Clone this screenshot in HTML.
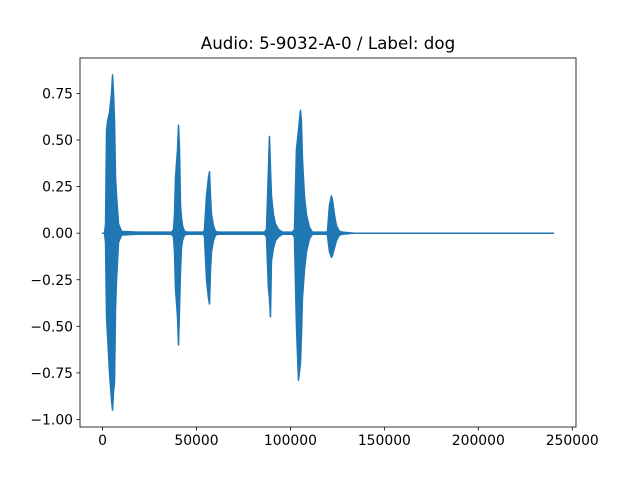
<!DOCTYPE html>
<html><head><meta charset="utf-8"><style>
html,body{margin:0;padding:0;background:#fff}
svg{display:block;font-family:"DejaVu Sans","Liberation Sans",sans-serif}
</style></head><body>
<svg id="chart" width="640" height="480" xmlns="http://www.w3.org/2000/svg">
<rect width="640" height="480" fill="#fff"/>
<text x="328" y="49" text-anchor="middle" font-size="16.7">Audio: 5-9032-A-0 / Label: dog</text>
<g id="plot"></g>
<g id="axes"></g>
</svg>
<script>
// envelope of the waveform: sample index, upper and lower amplitudes
const envX = [0,1064,1596,2128,2660,3724,4788,5320,5852,6384,6916,7448,8512,10108,
 18640,27960,
 36708,37772,38304,38836,39900,40432,40964,41496,42028,42560,43624,45220,
 48000,
 53732,54264,55328,56392,56924,57456,57988,59052,60116,61712,
 70000,
 86184,87248,88312,88844,89376,89908,90972,92036,93632,95760,
 101080,102144,103208,104272,105336,105868,106400,107464,108528,110124,111720,
 114000,
 119168,119700,120764,121828,122360,123424,124488,126084,127680,134064,240000];
const envHi = [0,0,0.05,0.55,0.6,0.65,0.75,0.85,0.75,0.6,0.3,0.2,0.05,0.01,
 0.006,0.006,
 0.006,0.02,0.1,0.3,0.45,0.58,0.45,0.15,0.08,0.04,0.01,0.006,
 0.006,
 0.006,0.02,0.2,0.3,0.33,0.2,0.1,0.04,0.01,0.006,
 0.006,
 0.006,0.02,0.35,0.52,0.35,0.2,0.1,0.05,0.02,0.006,
 0.006,0.02,0.45,0.55,0.66,0.6,0.4,0.2,0.1,0.03,0.006,
 0.006,
 0.006,0.01,0.15,0.2,0.18,0.1,0.04,0.01,0.006,0,0];
const envLo = [0,0,-0.05,-0.45,-0.55,-0.75,-0.9,-0.95,-0.85,-0.8,-0.4,-0.25,-0.05,-0.01,
 -0.006,-0.006,
 -0.006,-0.02,-0.1,-0.3,-0.45,-0.6,-0.4,-0.2,-0.08,-0.04,-0.01,-0.006,
 -0.006,
 -0.006,-0.02,-0.25,-0.35,-0.38,-0.2,-0.1,-0.04,-0.01,-0.006,
 -0.006,
 -0.006,-0.02,-0.3,-0.35,-0.45,-0.15,-0.08,-0.04,-0.02,-0.006,
 -0.006,-0.02,-0.5,-0.79,-0.7,-0.55,-0.35,-0.2,-0.1,-0.03,-0.006,
 -0.006,
 -0.006,-0.01,-0.1,-0.13,-0.12,-0.08,-0.04,-0.01,-0.006,0,0];
const xTicks = [0,50000,100000,150000,200000,250000];
const yTicks = [-1.0,-0.75,-0.5,-0.25,0,0.25,0.5,0.75];

const L=80,R=576,T=58,B=427;
const xMin=-12000,xMax=252000,yMin=-1.0405,yMax=0.9405;
const sx=v=>L+(v-xMin)/(xMax-xMin)*(R-L);
const sy=v=>B-(v-yMin)/(yMax-yMin)*(B-T);
const NS="http://www.w3.org/2000/svg";
const plot=document.getElementById('plot'), axes=document.getElementById('axes');
function mk(tag,attrs,parent){const e=document.createElementNS(NS,tag);for(const k in attrs)e.setAttribute(k,attrs[k]);parent.appendChild(e);return e;}

let pts=[];
for(let i=0;i<envX.length;i++)pts.push(sx(envX[i]).toFixed(2)+','+sy(envHi[i]).toFixed(2));
for(let i=envX.length-1;i>=0;i--)pts.push(sx(envX[i]).toFixed(2)+','+sy(envLo[i]).toFixed(2));
const poly=mk('polygon',{points:pts.join(' '),fill:'#1f77b4',stroke:'#1f77b4','stroke-width':1.5,'stroke-linejoin':'round'},plot);



const frame=mk('rect',{x:L,y:T,width:R-L,height:B-T,fill:'none',stroke:'#000','stroke-width':0.8},axes);


xTicks.forEach(v=>{
  const x=sx(v);
  const t=mk('line',{x1:x,x2:x,y1:B,y2:B+3.5,stroke:'#000','stroke-width':0.8},axes);
  
  
  const l=mk('text',{x:x,y:B+18,'text-anchor':'middle','font-size':13.9},axes);
  l.textContent=String(v);
  
  
});
yTicks.forEach(v=>{
  const y=sy(v);
  const t=mk('line',{x1:L-3.5,x2:L,y1:y,y2:y,stroke:'#000','stroke-width':0.8},axes);
  
  
  const l=mk('text',{x:L-7,y:y+5,'text-anchor':'end','font-size':13.9},axes);
  l.textContent=(v<0?'\u2212':'')+Math.abs(v).toFixed(2);
  
  
});
</script>
</body></html>
